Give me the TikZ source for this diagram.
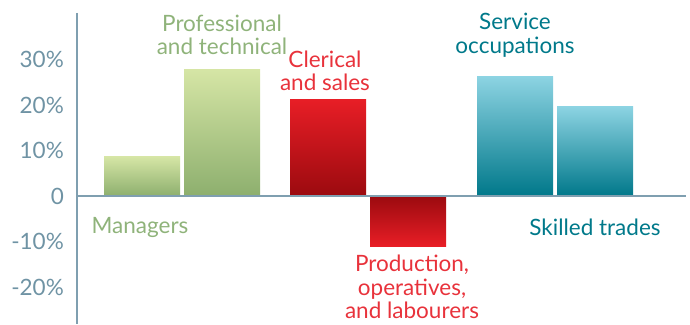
\documentclass[tikz,border=0pt]{standalone}
\usepackage{fontspec}
\setmainfont{Lato}
\definecolor{axisblue}{HTML}{7F9FB0}
\definecolor{ticktext}{HTML}{6F93A4}
\definecolor{greenlight}{HTML}{D5E5A5}
\definecolor{greendark}{HTML}{8DAF6E}
\definecolor{greentext}{HTML}{8FB37A}
\definecolor{redlight}{HTML}{E81E26}
\definecolor{reddark}{HTML}{9B0A0F}
\definecolor{redtext}{HTML}{E8323B}
\definecolor{teallight}{HTML}{8CD3E2}
\definecolor{tealmid}{HTML}{0097A7}
\definecolor{tealdark}{HTML}{00788A}
\definecolor{tealtext}{HTML}{00798A}

\begin{document}
\begin{tikzpicture}[x=1pt,y=1pt,
every node/.style={font=\fontsize{22.5}{23.5}\selectfont,align=center,inner sep=0pt},
tick label/.style={anchor=east,text=ticktext},
greenbar/.style={top color=greenlight,bottom color=greendark},
redbar/.style={top color=redlight,bottom color=reddark},
redneg/.style={top color=reddark,bottom color=redlight},
tealbar/.style={top color=teallight,middle color=tealmid,bottom color=tealdark}]
\useasboundingbox (0,0) rectangle (690,324);
% bars: left edge / value in percent / style
\foreach \x/\v/\s in {104/8.6/greenbar,184/27.7/greenbar,290/21.3/redbar,
370/-11/redneg,477/26.2/tealbar,557/19.6/tealbar}
  \shade[\s] (\x,128) rectangle ++(76,4.55*\v);
% axes
\draw[axisblue,line width=2pt] (77,311) -- (77,0);
\draw[axisblue,line width=2pt] (77,128) -- (686,128);
% tick labels
\foreach \t/\l in {30/30\%,20/20\%,10/10\%,0/0,-10/-10\%,-20/-20\%}
  \node[tick label] (tick\t) at (64,128+4.55*\t) {\l};
% category labels
\node[text=greentext] (prof) at (222,289) {Professional\\and technical};
\node[text=greentext] (man) at (140,97) {Managers};
\node[text=redtext] (cler) at (325,253) {Clerical\\and sales};
\node[text=redtext] (prod) at (412,37) {Production,\\operatives,\\and labourers};
\node[text=tealtext] (serv) at (515,289) {Service\\occupations};
\node[text=tealtext] (skill) at (595,97) {Skilled trades};
\end{tikzpicture}
\end{document}
